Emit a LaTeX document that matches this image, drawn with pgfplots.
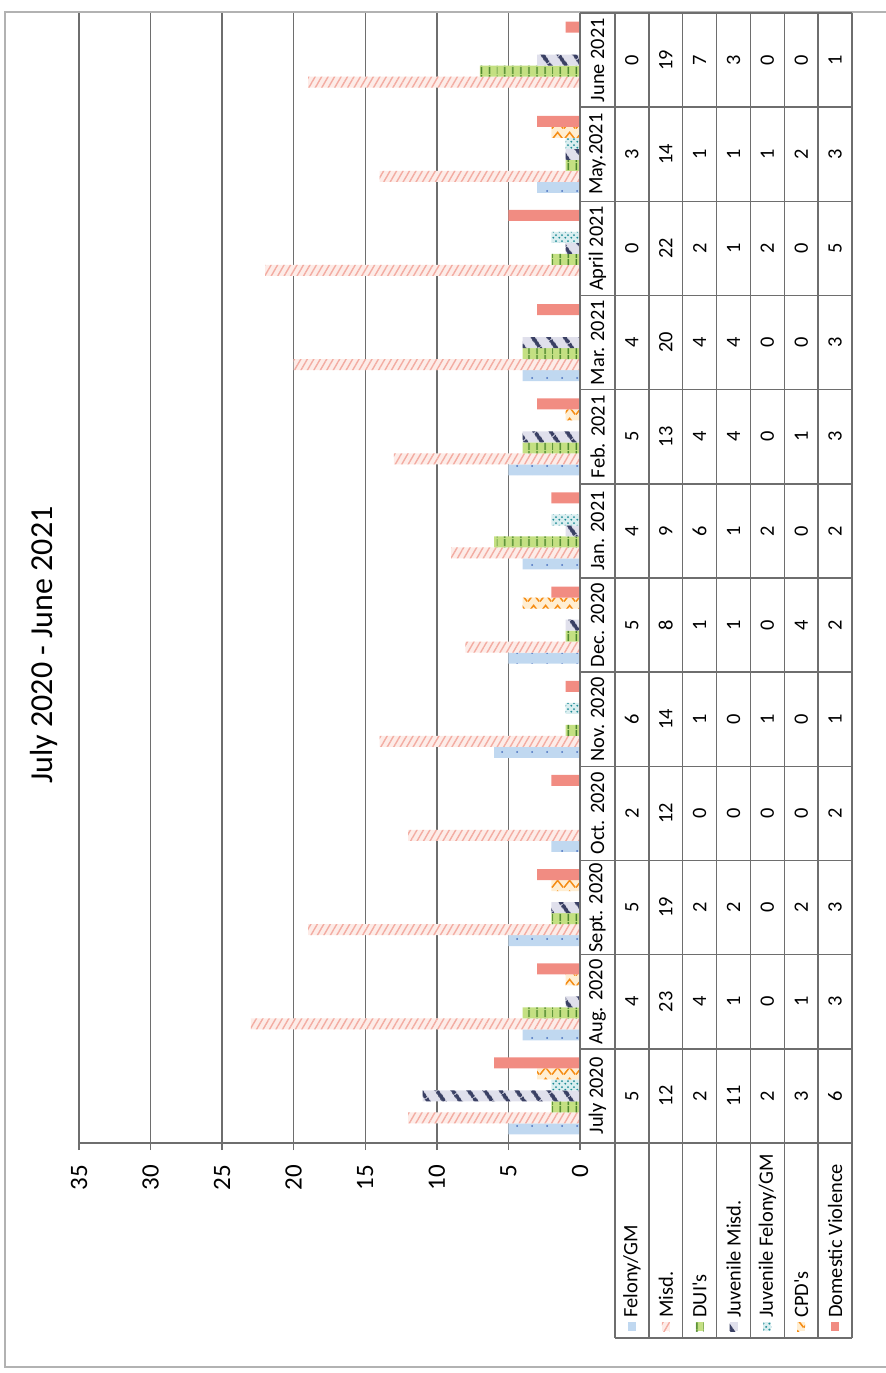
\documentclass[border=0pt]{standalone}
\usepackage{pgfplots}
\pgfplotsset{compat=1.18}
\usepackage{fontspec}
\setmainfont{Carlito}
\usetikzlibrary{patterns.meta}

\definecolor{felfill}{RGB}{192,216,240}
\definecolor{feldot}{RGB}{70,110,190}
\definecolor{misfill}{RGB}{253,236,232}
\definecolor{misline}{RGB}{243,172,162}
\definecolor{duifill}{RGB}{196,224,130}
\definecolor{duiline}{RGB}{70,130,40}
\definecolor{jmfill}{RGB}{224,224,236}
\definecolor{jmline}{RGB}{58,64,100}
\definecolor{jffill}{RGB}{218,238,240}
\definecolor{jfdot}{RGB}{30,140,150}
\definecolor{cpdfill}{RGB}{255,238,210}
\definecolor{cpdline}{RGB}{245,140,20}
\definecolor{dvfill}{RGB}{241,140,130}
\definecolor{gridgray}{RGB}{110,110,110}

\pgfdeclarepattern{
  name=feldots,
  bottom left={\pgfpoint{0pt}{0pt}},
  top right={\pgfpoint{7.5pt}{5.5pt}},
  tile size={\pgfpoint{7.5pt}{5.5pt}},
  code={\pgfpathcircle{\pgfpoint{3.75pt}{2.75pt}}{0.55pt}\pgfusepath{fill}}
}
\pgfdeclarepattern{
  name=tealdots,
  bottom left={\pgfpoint{0pt}{0pt}},
  top right={\pgfpoint{3pt}{3pt}},
  tile size={\pgfpoint{3pt}{3pt}},
  code={\pgfpathcircle{\pgfpoint{0.75pt}{0.75pt}}{0.6pt}\pgfpathcircle{\pgfpoint{2.25pt}{2.25pt}}{0.6pt}\pgfusepath{fill}}
}
\pgfdeclarepattern{
  name=zigzag,
  bottom left={\pgfpoint{0pt}{0pt}},
  top right={\pgfpoint{6pt}{5.5pt}},
  tile size={\pgfpoint{6pt}{5.5pt}},
  code={\pgfsetlinewidth{0.8pt}\pgfpathmoveto{\pgfpoint{0pt}{0.8pt}}\pgfpathlineto{\pgfpoint{3pt}{4.7pt}}\pgfpathlineto{\pgfpoint{6pt}{0.8pt}}\pgfusepath{stroke}}
}

\tikzset{
  sFel/.style={fill=felfill, draw=none, postaction={pattern=feldots, pattern color=feldot}},
  sMis/.style={fill=misfill, draw=none, postaction={pattern={Lines[angle=60,distance=2.8pt,line width=0.7pt]}, pattern color=misline}},
  sDUI/.style={fill=duifill, draw=none, postaction={pattern={Lines[angle=90,distance=4pt,line width=0.9pt]}, pattern color=duiline}},
  sJM/.style={fill=jmfill, draw=none, postaction={pattern={Lines[angle=-55,distance=6.5pt,line width=2pt]}, pattern color=jmline}},
  sJF/.style={fill=jffill, draw=none, postaction={pattern=tealdots, pattern color=jfdot}},
  sCPD/.style={fill=cpdfill, draw=none, postaction={pattern=zigzag, pattern color=cpdline}},
  sDV/.style={fill=dvfill, draw=none},
}

\begin{document}
\begin{tikzpicture}
\begin{axis}[
  at={(164.75pt,-571.5pt)}, anchor=south,
  scale only axis, width=250.5pt, height=565pt,
  xbar=0pt, bar width=5.5pt,
  x dir=reverse,
  xmin=0, xmax=35, ymin=-0.5, ymax=11.5,
  xtick={0,5,...,35}, ytick=\empty,
  xmajorgrids, grid style={gridgray, line width=0.7pt},
  axis line style={draw=none},
  tick align=outside, xtick pos=left,
  major tick length=3.5pt, tick style={gridgray, line width=0.7pt},
  xticklabel shift=4pt,
  xticklabel style={rotate=90, anchor=east, font=\fontsize{12.5}{13}\selectfont},
  /pgf/number format/assume math mode=true,
  clip=false,
]
\addplot[sFel] coordinates {(5,0) (4,1) (5,2) (2,3) (6,4) (5,5) (4,6) (5,7) (4,8) (0,9) (3,10) (0,11)};
\addplot[sMis] coordinates {(12,0) (23,1) (19,2) (12,3) (14,4) (8,5) (9,6) (13,7) (20,8) (22,9) (14,10) (19,11)};
\addplot[sDUI] coordinates {(2,0) (4,1) (2,2) (0,3) (1,4) (1,5) (6,6) (4,7) (4,8) (2,9) (1,10) (7,11)};
\addplot[sJM] coordinates {(11,0) (1,1) (2,2) (0,3) (0,4) (1,5) (1,6) (4,7) (4,8) (1,9) (1,10) (3,11)};
\addplot[sJF] coordinates {(2,0) (0,1) (0,2) (0,3) (1,4) (0,5) (2,6) (0,7) (0,8) (2,9) (1,10) (0,11)};
\addplot[sCPD] coordinates {(3,0) (1,1) (2,2) (0,3) (0,4) (4,5) (0,6) (1,7) (0,8) (0,9) (2,10) (0,11)};
\addplot[sDV] coordinates {(6,0) (3,1) (3,2) (2,3) (1,4) (2,5) (2,6) (3,7) (3,8) (5,9) (3,10) (1,11)};
\end{axis}

\begin{scope}[x=0.5pt,y=-0.5pt]
\useasboundingbox (0,0) rectangle (886,1373);
% outer border
\draw[gray!60, line width=0.6pt] (886,12) -- (5,12) -- (5,1367) -- (886,1367);
% value axis line
\draw[gridgray, line width=0.7pt] (79,1143) -- (580,1143);
% table grid
\begin{scope}[gridgray, line width=0.7pt]
\foreach \k in {0,...,12} \draw (580,{13+94.1667*\k}) -- (852,{13+94.1667*\k});
\draw (580,13) -- (580,1143);
\foreach \r in {0,...,7} \draw ({615+33.857*\r},13) -- ({615+33.857*\r},1338);
\draw (615,1338) -- (852,1338);
\end{scope}

% title
\node[rotate=90, font=\fontsize{16}{18}\selectfont] at (44,645) {July 2020 - June 2021};

% category labels
\foreach \lab [count=\k from 0] in {July 2020, Aug. 2020, Sept. 2020, Oct. 2020, Nov. 2020, Dec. 2020, Jan. 2021, Feb. 2021, Mar. 2021, April 2021, May.2021, June 2021}
  \node[rotate=90, font=\fontsize{10.2}{12}\selectfont, inner sep=0pt] at (597.5,{1143-94.1667*(\k+0.5)}) {\lab};

% table values
\newcommand\tabrow[2]{%
  \foreach \v [count=\k from 0] in {#2}
    \node[rotate=90, font=\fontsize{10.2}{12}\selectfont, inner sep=0pt] at ({615+33.857*(#1+0.5)},{1143-94.1667*(\k+0.5)}) {\v};}
\tabrow{0}{5,4,5,2,6,5,4,5,4,0,3,0}
\tabrow{1}{12,23,19,12,14,8,9,13,20,22,14,19}
\tabrow{2}{2,4,2,0,1,1,6,4,4,2,1,7}
\tabrow{3}{11,1,2,0,0,1,1,4,4,1,1,3}
\tabrow{4}{2,0,0,0,1,0,2,0,0,2,1,0}
\tabrow{5}{3,1,2,0,0,4,0,1,0,0,2,0}
\tabrow{6}{6,3,3,2,1,2,2,3,3,5,3,1}

% legend column
\newcommand\legrow[3]{%
  \path[#2] ({615+33.857*(#1+0.5)-4},1322) rectangle ({615+33.857*(#1+0.5)+4},1331);
  \node[rotate=90, anchor=west, font=\fontsize{10.2}{12}\selectfont, inner sep=0pt] at ({615+33.857*(#1+0.5)},1318) {#3};}
\legrow{0}{sFel}{Felony/GM}
\legrow{1}{sMis}{Misd.}
\legrow{2}{sDUI}{DUI\textquotesingle s}
\legrow{3}{sJM}{Juvenile Misd.}
\legrow{4}{sJF}{Juvenile Felony/GM}
\legrow{5}{sCPD}{CPD\textquotesingle s}
\legrow{6}{sDV}{Domestic Violence}
\end{scope}
\end{tikzpicture}
\end{document}
